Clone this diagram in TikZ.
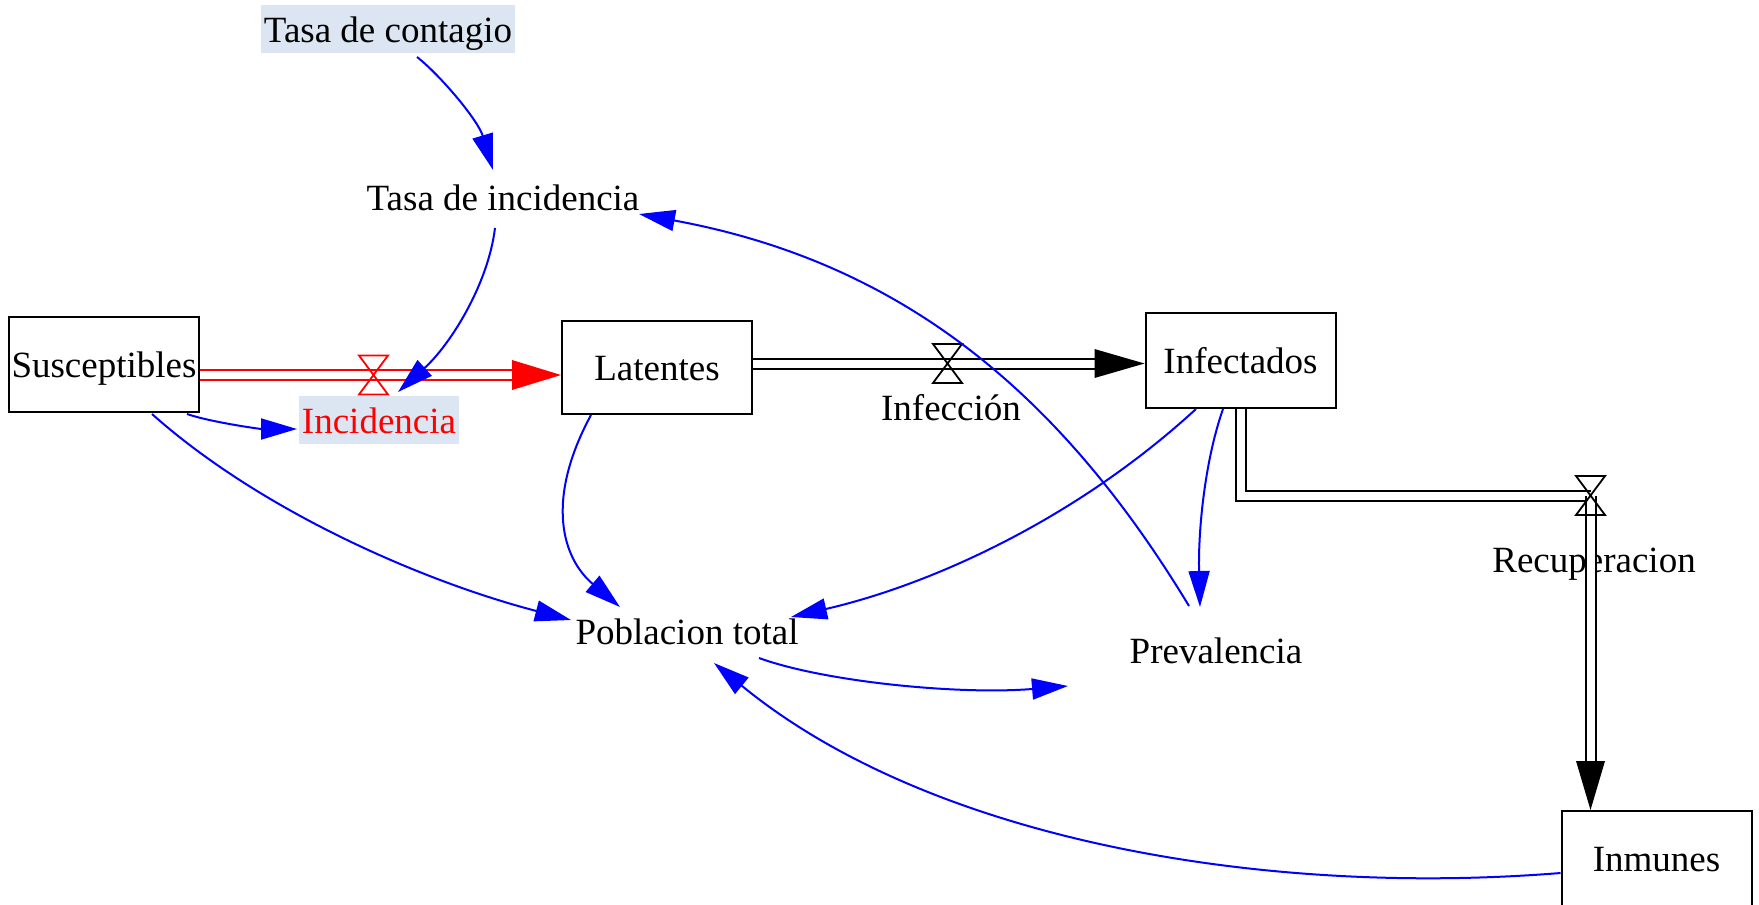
\documentclass[tikz,border=0pt]{standalone}
\usepackage{fontspec}
\setmainfont{Liberation Serif}
\usetikzlibrary{arrows.meta,calc}
\definecolor{bgblue}{RGB}{220,230,242}
\definecolor{linkblue}{RGB}{0,0,255}
\begin{document}
\begin{tikzpicture}[x=0.5pt,y=-0.5pt,
  font=\fontsize{18.5}{22}\selectfont,
  stock/.style={draw, line width=1pt, minimum width=95pt, minimum height=47.5pt,
    inner sep=0pt, text height=12.5pt, text depth=0pt},
  lab/.style={inner sep=0pt, anchor=base},
  bglab/.style={fill=bgblue, inner xsep=1.5pt, inner ysep=0pt, anchor=base,
    text height=18.75pt, text depth=5.25pt},
  pipe/.style={draw=black, line width=1pt, double=white, double distance=4pt},
  redpipe/.style={pipe, draw=red},
  link/.style={draw=linkblue, line width=1pt, -{Triangle[length=18pt,width=10.5pt]}},
  valve/.pic={\draw[line width=0.9pt] (-7.25pt,-9.75pt) -- (7.25pt,-9.75pt) -- (-7.25pt,9.75pt) -- (7.25pt,9.75pt) -- cycle;}
]
\useasboundingbox (0,0) rectangle (1759,904);

% stocks
\node[stock] (sus) at (104,364.5) {Susceptibles};
\node[stock, minimum height=46.5pt] (lat) at (657,367.5) {Latentes};
\node[stock] (inf) at (1240.5,360.5) {Infectados};
\node[stock] (inm) at (1656.5,858.5) {Inmunes};

% auxiliaries
\node[bglab] (tc) at (388,43) {Tasa de contagio};
\node[lab] (ti) at (503,210) {Tasa de incidencia};
\node[bglab, text=red] (inc) at (379,433) {Incidencia};
\node[lab] (infl) at (951,420) {Infección};
\node[lab] (rec) at (1594,572) {Recuperacion};
\node[lab] (pob) at (687,644) {Poblacion total};
\node[lab] (prev) at (1216,663) {Prevalencia};

% valves
\coordinate (v1) at (373.5,375);
\coordinate (v2) at (947.5,363.5);
\coordinate (v3) at (1590.5,495.5);

% flows
\draw[redpipe] (v1 -| sus.east) -- ($(v1 -| lat.west)+(-48,0)$);
\fill[red] (v1 -| lat.west) -- ++(-49,-15) -- ++(0,30) -- cycle;

\draw[pipe] (v2 -| lat.east) -- ($(v2 -| inf.west)+(-48,0)$);
\fill (v2 -| inf.west) -- ++(-50,-14.5) -- ++(0,29) -- cycle;

\draw[pipe] (inf.south) |- (v3);
\draw[pipe] (v3) -- ($(v3 |- inm.north)+(0,-48)$);
\fill (v3 |- inm.north) -- ++(-14.5,-49) -- ++(29,0) -- cycle;

\pic[red] at (v1) {valve};
\pic at (v2) {valve};
\pic at (v3) {valve};

% information links
\draw[link] ($(tc.base)+(29,14)$) .. controls (440,75) and (478,120) .. ($(ti.base)+(-10,-40)$);
\draw[link] ($(ti.base)+(-8,18)$) .. controls (488,285) and (450,345) .. ($(inc.base)+(19,-41)$);
\draw[link] ($(sus.south)+(83,1)$) .. controls (210,422) and (260,429) .. ($(inc.base)+(-82,-4)$);
\draw[link] ($(sus.south)+(48,1)$) .. controls (262,512) and (425,582) .. ($(pob.base)+(-116,-24)$);
\draw[link] ($(lat.south)+(-66,0)$) .. controls (545,500) and (562,558) .. ($(pob.base)+(-67,-37)$);
\draw[link] ($(inf.south)+(-44.5,0)$) .. controls (1075,520) and (930,585) .. ($(pob.base)+(104,-27)$);
\draw[link] ($(inf.south)+(-17.5,0)$) .. controls (1205,460) and (1198,530) .. ($(prev.base)+(-16,-56)$);
\draw[link] ($(prev.base)+(-27,-57)$) .. controls (1059,391) and (900,262) .. ($(ti.base)+(136,4)$);
\draw[link] ($(pob.base)+(72,14)$) .. controls (825,682) and (960,695) .. ($(prev.base)+(-148,23)$);
\draw[link] ($(inm.west)+(0,14.5)$) .. controls (1262,897) and (930,840) .. ($(pob.base)+(27,19)$);
\end{tikzpicture}
\end{document}
